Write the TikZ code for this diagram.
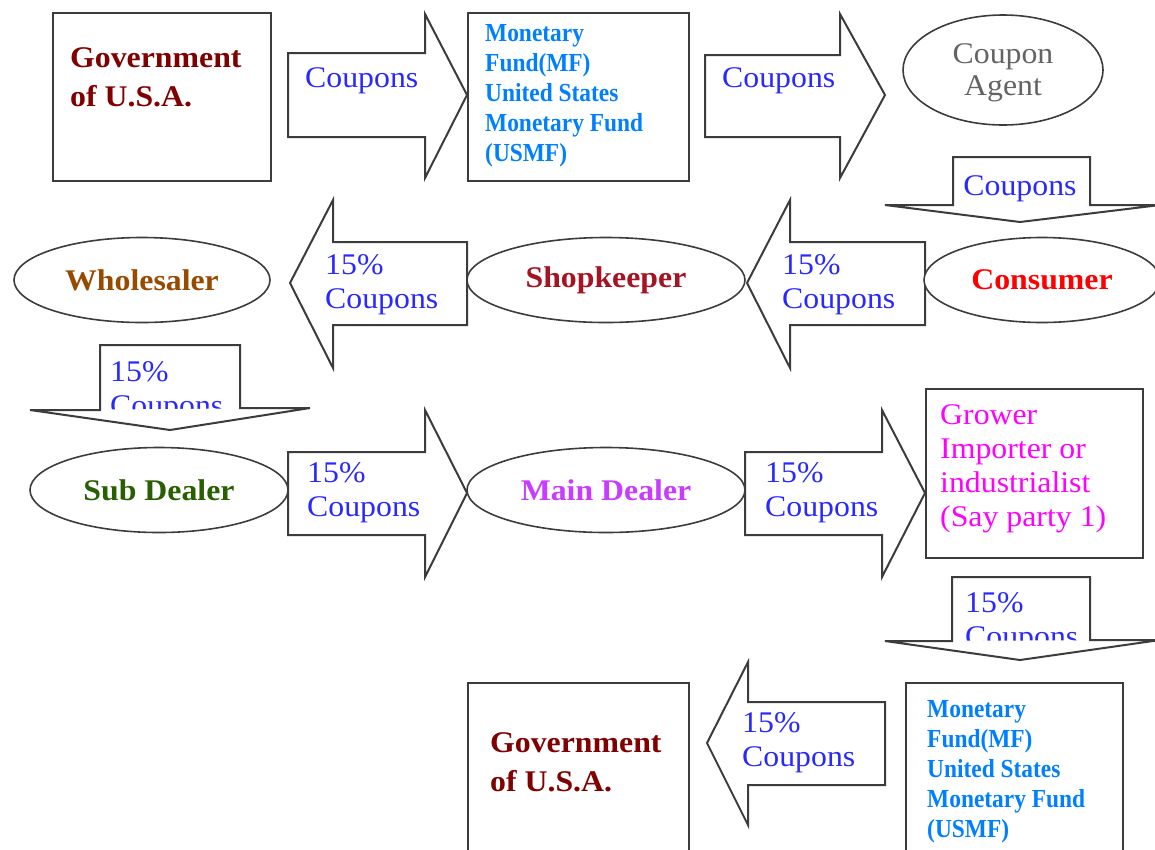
\documentclass[tikz,border=0pt]{standalone}
\usepackage{fontspec}
\setmainfont{Liberation Serif}
\newfontfamily\mffont[FakeStretch=0.9]{Liberation Serif}
\newfontfamily\cpfont[FakeStretch=1.06]{Liberation Serif}
\usetikzlibrary{shapes.geometric}
\definecolor{lc}{RGB}{60,60,60}
\definecolor{cpblue}{RGB}{40,40,255}
\definecolor{mfblue}{RGB}{0,128,255}
\definecolor{govred}{RGB}{128,0,0}
\definecolor{agentgray}{RGB}{100,100,100}
\definecolor{wholecol}{RGB}{150,75,0}
\definecolor{shopcol}{RGB}{165,20,35}
\definecolor{conscol}{RGB}{255,0,0}
\definecolor{subcol}{RGB}{40,95,0}
\definecolor{maincol}{RGB}{200,60,255}
\definecolor{growcol}{RGB}{255,0,255}
\begin{document}
\begin{tikzpicture}[x=1pt,y=-1pt,
  shp/.style={draw=lc, line width=2pt, fill=white, line join=miter},
  headfill/.style={fill=white, draw=none},
  outl/.style={draw=lc, line width=2pt, line join=miter},
  boxn/.style={draw=lc, line width=2pt, rectangle, inner sep=0, anchor=north west, fill=white},
  ell/.style={draw=lc, line width=1.6pt, ellipse, inner sep=0, fill=white, font=\fontsize{30}{34}\cpfont\selectfont\bfseries},
  govt/.style={text=govred, font=\fontsize{30}{39}\cpfont\selectfont\bfseries, align=left, inner sep=0, anchor=west},
  mft/.style={text=mfblue, font=\fontsize{26}{30}\mffont\selectfont\bfseries, align=left, inner sep=0, anchor=west},
  cp/.style={text=cpblue, font=\fontsize{30}{34}\cpfont\selectfont, align=left, inner sep=0, anchor=west},
  grt/.style={text=growcol, font=\fontsize{30}{34}\cpfont\selectfont, align=left, inner sep=0, anchor=west}
]
\clip (0,0) rectangle (1155,849);
\fill[white] (0,0) rectangle (1155,849);

% ---------- Row 1 ----------
\node[boxn, minimum width=218, minimum height=168] (gov1) at (52,12) {};
\node[govt] (gov1t) at (70,77) {Government\\of U.S.A.};

\draw[shp] (288,53) -- (425,53) -- (425,14) -- (467,95) -- (425,178) -- (425,137) -- (288,137) -- cycle;
\node[cp] (c1) at (305,81) {Coupons};

\node[boxn, minimum width=221, minimum height=168] (mf1) at (467,12) {};
\node[mft] (mf1t) at (485,96) {Monetary\\Fund(MF)\\United States\\Monetary Fund\\(USMF)};

\draw[shp] (705,55) -- (840,55) -- (840,14) -- (885,95) -- (840,178) -- (840,137) -- (705,137) -- cycle;
\node[cp] (c2) at (722,81) {Coupons};

\node[ell, minimum width=200, minimum height=110, text=agentgray, font=\fontsize{30}{32}\cpfont\selectfont, align=center, text depth=0pt] (agent) at (1003,70) {Coupon\\Agent};

% down arrow 1
\node[cp, anchor=center] (c3) at (1020,189) {Coupons};
\fill[headfill] (885,205) -- (1160,205) -- (1020,222) -- cycle;
\draw[outl] (885,205) -- (953,205) -- (953,157) -- (1090,157) -- (1090,205) -- (1160,205) -- (1020,222) -- cycle;

% ---------- Row 2 ----------
\node[ell, minimum width=256, minimum height=85, text=wholecol] (whole) at (142,280) {Wholesaler};

\draw[shp] (467,242) -- (333,242) -- (333,200) -- (290,283) -- (333,368) -- (333,325) -- (467,325) -- cycle;
\node[cp] (c4) at (325,285) {15\%\\Coupons};

\node[ell, minimum width=278, minimum height=85, text=shopcol] (shop) at (606,280) {Shopkeeper};

\draw[shp] (925,242) -- (790,242) -- (790,200) -- (747,283) -- (790,368) -- (790,325) -- (925,325) -- cycle;
\node[cp] (c5) at (782,285) {15\%\\Coupons};

\node[ell, minimum width=236, minimum height=85, text=conscol] (cons) at (1042,280) {Consumer};

% down arrow 2
\node[cp] (c6) at (110,392) {15\%\\Coupons};
\fill[headfill] (30,410) -- (310,408) -- (170,430) -- cycle;
\draw[outl] (30,410) -- (100,410) -- (100,345) -- (240,345) -- (240,408) -- (310,408) -- (170,430) -- cycle;

% ---------- Row 3 ----------
\node[ell, minimum width=258, minimum height=85, text=subcol] (sub) at (159,490) {Sub Dealer};

\draw[shp] (288,452) -- (425,452) -- (425,410) -- (467,493) -- (425,577) -- (425,535) -- (288,535) -- cycle;
\node[cp] (c7) at (307,493) {15\%\\Coupons};

\node[ell, minimum width=278, minimum height=85, text=maincol] (main) at (606,490) {Main Dealer};

\draw[shp] (745,452) -- (882,452) -- (882,410) -- (925,493) -- (882,577) -- (882,535) -- (745,535) -- cycle;
\node[cp] (c8) at (765,493) {15\%\\Coupons};

\node[boxn, minimum width=217, minimum height=169] (grow) at (925,388) {};
\node[grt] (growt) at (940,469) {Grower\\Importer or\\industrialist\\(Say party 1)};

% down arrow 3
\node[cp] (c9) at (965,623) {15\%\\Coupons};
\fill[headfill] (885,641) -- (1160,640) -- (1020,660) -- cycle;
\draw[outl] (885,641) -- (952,641) -- (952,577) -- (1090,577) -- (1090,640) -- (1160,640) -- (1020,660) -- cycle;

% ---------- Row 4 ----------
\node[boxn, minimum width=221, minimum height=175] (gov2) at (467,682) {};
\node[govt] (gov2t) at (490,762) {Government\\of U.S.A.};

\draw[shp] (885,702) -- (748,702) -- (748,662) -- (707,743) -- (748,825) -- (748,785) -- (885,785) -- cycle;
\node[cp] (c10) at (742,743) {15\%\\Coupons};

\node[boxn, minimum width=217, minimum height=175] (mf2) at (905,682) {};
\node[mft] (mf2t) at (927,772) {Monetary\\Fund(MF)\\United States\\Monetary Fund\\(USMF)};
\end{tikzpicture}
\end{document}
